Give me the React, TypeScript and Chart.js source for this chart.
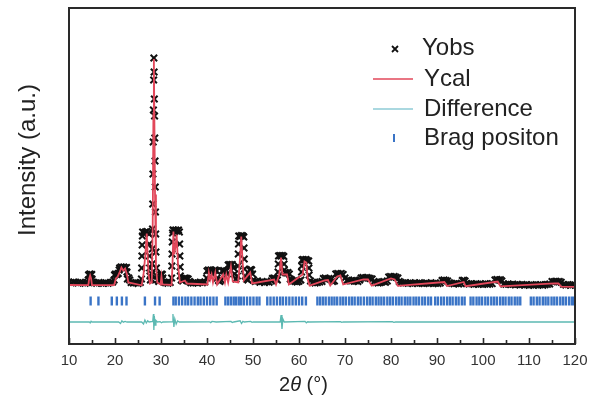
import React, { useEffect, useRef } from "react";
import { Chart, registerables } from "chart.js";

Chart.register(...registerables);

// 2θ range and tick labels
const xMin = 10;
const xMax = 120;
const xTickStep = 10;

// Observed intensity (2θ, counts)
const yObs: [number, number][] = [
  [10.0, 618], [10.5, 612], [11.0, 620], [11.5, 615], [12.0, 610], [12.5, 617], [13.0, 612], [13.5, 608], [14.0, 615],
  [14.2, 640], [14.25, 690], [14.4, 695], [14.6, 700], [14.8, 690], [14.95, 695], [15.0, 650], [15.1, 620],
  [15.5, 612], [16.0, 608], [16.5, 615], [17.0, 610], [17.5, 606], [18.0, 612], [18.5, 608], [19.0, 615], [19.5, 620],
  [19.8, 640], [19.9, 690], [20.1, 700], [20.4, 695], [20.7, 705], [20.9, 740], [21.0, 760], [21.3, 770], [21.6, 765],
  [21.9, 770], [22.2, 760], [22.5, 765], [22.6, 720], [22.7, 650], [23.0, 660], [23.2, 640], [23.5, 615],
  [24.0, 610], [24.5, 612], [25.0, 605], [25.5, 615],
  [25.75, 650], [25.8, 760], [25.85, 880], [25.9, 990], [25.95, 1080], [26.0, 1120], [26.3, 1110], [26.6, 1120],
  [26.9, 1125], [27.2, 1110], [27.4, 1100], [27.45, 1000], [27.5, 880], [27.55, 760], [27.6, 680], [27.7, 640], [27.9, 650],
  [28.0, 700], [28.05, 800], [28.1, 950], [28.15, 1150], [28.2, 1400], [28.25, 1700], [28.3, 2020], [28.35, 2340],
  [28.4, 2640], [28.45, 2860], [28.5, 2720], [28.55, 2450], [28.6, 2280], [28.65, 2060], [28.7, 1830], [28.75, 1570],
  [28.8, 1320], [28.85, 1100], [28.9, 920], [29.0, 760], [29.1, 680], [29.3, 640], [29.5, 625],
  [29.8, 650], [29.9, 690], [30.1, 700], [30.3, 695], [30.4, 660], [30.6, 620], [31.0, 612], [31.5, 608], [32.0, 615],
  [32.3, 660], [32.35, 780], [32.4, 900], [32.45, 1020], [32.5, 1110], [32.6, 1140], [32.9, 1135], [33.2, 1140],
  [33.5, 1130], [33.8, 1140], [34.0, 1120], [34.05, 1000], [34.1, 880], [34.15, 770], [34.2, 680], [34.4, 640],
  [34.7, 630], [35.0, 655], [35.3, 660], [35.6, 655], [35.9, 650], [36.2, 625], [36.5, 612], [37.0, 610], [37.5, 615],
  [38.0, 610], [38.5, 618], [39.0, 612], [39.5, 620],
  [39.9, 660], [40.0, 730], [40.3, 740], [40.6, 735], [40.9, 740], [41.2, 700], [41.5, 735], [41.8, 740], [42.1, 730],
  [42.2, 660], [42.5, 635], [42.8, 625], [43.1, 640],
  [43.3, 730], [43.6, 735], [43.9, 725], [44.2, 730], [44.4, 700],
  [44.6, 790], [44.9, 795], [45.2, 790], [45.5, 795], [45.8, 760], [46.0, 700], [46.3, 650], [46.6, 680],
  [46.75, 780], [46.8, 900], [46.85, 1000], [46.9, 1080], [47.2, 1075], [47.5, 1085], [47.8, 1080], [48.0, 1070],
  [48.05, 960], [48.1, 850], [48.15, 750], [48.3, 680], [48.6, 650], [48.9, 640],
  [49.2, 680], [49.3, 740], [49.5, 745], [49.7, 740], [49.9, 700], [50.1, 640], [50.5, 625], [51.0, 630], [51.5, 618],
  [52.0, 625], [52.5, 615], [53.0, 622], [53.5, 618], [54.0, 630],
  [54.2, 655], [54.5, 660], [54.8, 655], [55.1, 650], [55.3, 640],
  [55.45, 720], [55.5, 800], [55.55, 880], [55.8, 885], [56.1, 880], [56.4, 885], [56.7, 875], [56.75, 800], [56.8, 740],
  [57.0, 715], [57.3, 710], [57.6, 715], [57.9, 700], [58.1, 650], [58.4, 640], [58.8, 630], [59.2, 625], [59.6, 620],
  [60.0, 628], [60.4, 640],
  [60.55, 720], [60.6, 780], [60.65, 840], [60.9, 845], [61.2, 840], [61.5, 845], [61.8, 835], [62.1, 830], [62.15, 760],
  [62.2, 690], [62.5, 630], [63.0, 615], [63.5, 610], [64.0, 615], [64.5, 620], [65.0, 625],
  [65.3, 655], [65.7, 660], [66.1, 650], [66.5, 655], [66.9, 645], [67.3, 625], [67.7, 630],
  [68.0, 700], [68.4, 705], [68.8, 700], [69.2, 705], [69.6, 695], [70.0, 660], [70.4, 635], [70.8, 640], [71.2, 630],
  [71.6, 635], [72.0, 628], [72.4, 632], [72.8, 625], [73.2, 640],
  [73.5, 660], [73.9, 665], [74.3, 660], [74.7, 665], [75.1, 660], [75.5, 655], [75.9, 650], [76.3, 625], [76.7, 615],
  [77.2, 610], [77.6, 615], [78.0, 620], [78.4, 625], [78.8, 618], [79.2, 630],
  [79.5, 670], [79.9, 675], [80.3, 670], [80.7, 675], [81.1, 668], [81.5, 660], [81.8, 625], [82.2, 615], [82.7, 610],
  [83.2, 612], [83.7, 608], [84.2, 612], [84.7, 605], [85.2, 610], [85.7, 606], [86.2, 612], [86.7, 608], [87.2, 604],
  [87.7, 610], [88.2, 606], [88.7, 612], [89.2, 605], [89.7, 608], [90.2, 604], [90.7, 610],
  [91.1, 635], [91.5, 640], [91.9, 635], [92.3, 630], [92.7, 612], [93.2, 606], [93.7, 602], [94.2, 606], [94.7, 600],
  [95.2, 605], [95.5, 635], [95.8, 638], [96.1, 630], [96.5, 605], [97.0, 600], [97.5, 604], [98.0, 598], [98.5, 602],
  [99.0, 596], [99.5, 600], [100.0, 597], [100.5, 602], [101.0, 598], [101.5, 600], [102.0, 604],
  [102.6, 640], [103.0, 645], [103.4, 640], [103.8, 642], [104.1, 630], [104.5, 600], [105.0, 596], [105.5, 600],
  [106.0, 594], [106.5, 598], [107.0, 592], [107.5, 596], [108.0, 590], [108.5, 595], [109.0, 590], [109.5, 594],
  [110.0, 588], [110.5, 592], [111.0, 588], [111.5, 592], [112.0, 590], [112.5, 594], [113.0, 588], [113.5, 592],
  [114.0, 596], [114.5, 600], [115.0, 625], [115.4, 622], [115.8, 628], [116.2, 622], [116.6, 625], [117.0, 618],
  [117.5, 596], [118.0, 590], [118.5, 594], [119.0, 588], [119.5, 592], [120.0, 590],
];

// Calculated profile (2θ, counts)
const yCal: [number, number][] = [
  [10, 590], [14.2, 589], [14.4, 655], [14.6, 685], [14.8, 655], [15.0, 589], [19.8, 588], [20.2, 655], [20.6, 675],
  [21.0, 715], [21.4, 765], [21.8, 735], [22.2, 755], [22.6, 695], [22.9, 615], [25.8, 587], [26.2, 695], [26.6, 895],
  [26.9, 1105], [27.1, 895], [27.3, 695], [27.6, 605], [28.0, 615], [28.2, 1195], [28.35, 2295], [28.45, 2850],
  [28.55, 2295], [28.7, 1495], [28.9, 795], [29.2, 615], [29.9, 595], [30.1, 675], [30.3, 595], [32.3, 590],
  [32.5, 795], [32.7, 1125], [32.9, 895], [33.2, 995], [33.4, 1095], [33.7, 795], [34.1, 615], [35.2, 635],
  [35.6, 605], [40.1, 595], [40.4, 715], [40.7, 645], [41.0, 695], [41.3, 615], [41.8, 715], [42.2, 595],
  [43.5, 695], [43.9, 615], [44.2, 695], [44.6, 615], [45.2, 775], [45.6, 625], [46.8, 615], [47.2, 875],
  [47.45, 1075], [47.7, 855], [48.0, 635], [49.4, 715], [49.8, 605], [54.6, 645], [55.0, 595], [55.7, 695],
  [56.1, 865], [56.4, 695], [57.4, 695], [57.8, 595], [60.8, 695], [61.2, 825], [61.6, 815], [61.9, 645],
  [62.3, 585], [65.6, 635], [66.3, 640], [66.8, 585], [68.3, 675], [69.0, 685], [69.6, 595], [74.0, 645],
  [75.0, 645], [75.8, 583], [80.0, 655], [80.8, 645], [81.5, 582], [91.6, 620], [92.2, 580], [95.8, 620],
  [96.2, 578], [103.2, 625], [103.8, 577], [115.5, 607], [116.4, 605], [117.0, 574], [120, 572],
];

// Difference curve, offset below the pattern (2θ, counts)
const yDiff: [number, number][] = [
  [10, 220], [14.4, 222], [14.6, 212], [14.8, 228], [15, 220], [20.8, 220], [21.2, 205], [21.5, 232], [21.8, 218],
  [22.2, 226], [22.6, 220], [25.8, 220], [26.2, 200], [26.5, 240], [26.8, 210], [27.1, 232], [27.4, 220],
  [28.2, 225], [28.35, 300], [28.45, 140], [28.55, 280], [28.7, 190], [28.9, 235], [29.2, 220], [29.8, 224],
  [30.1, 212], [30.4, 220], [32.4, 222], [32.6, 300], [32.8, 170], [33.0, 250], [33.3, 200], [33.6, 230],
  [34.0, 220], [40.5, 222], [40.8, 214], [41.1, 226], [42, 220], [45.2, 226], [45.5, 214], [45.8, 220],
  [47.2, 232], [47.5, 205], [47.8, 226], [48.1, 220], [49.5, 226], [49.8, 216], [50.1, 220], [55.9, 220],
  [56.1, 290], [56.3, 150], [56.5, 250], [56.8, 220], [61.3, 226], [61.6, 212], [61.9, 222], [62.2, 220], [69, 224],
  [69.3, 216], [69.6, 220], [80.3, 223], [80.6, 217], [81, 220], [120, 220],
];

// Bragg reflection positions (2θ)
const braggPositions: number[] = [
  14.7, 16.4, 19.3, 20.4, 21.5, 22.5, 26.5, 28.7, 29.7,
  32.7, 33.2, 33.9, 34.6, 35.3, 35.9, 36.6, 37.3, 38.0, 38.6, 39.3, 40.0, 40.7, 41.4, 42.1,
  44.0, 44.6, 45.2, 45.8, 46.3, 46.9, 47.4, 48.0, 48.7, 49.4, 50.1, 50.8, 51.4,
  53.1, 53.8, 54.5, 55.2, 55.9, 56.5, 57.2, 57.9, 58.6, 59.3, 60.0, 60.7, 61.5,
  64.0, 64.6, 65.2, 65.8, 66.5, 67.1, 67.7, 68.3, 69.0, 69.6, 70.2, 70.9, 71.5, 72.1, 72.8, 73.4, 74.1, 74.8, 75.4,
  76.0, 76.7, 77.3, 77.9, 78.5, 79.2, 79.8, 80.4, 81.1, 81.7, 82.3, 83.0, 83.6, 84.2, 84.9, 85.5, 86.1, 86.8,
  87.4, 88.1, 88.7,
  89.6, 90.2, 90.9, 91.5, 92.2, 92.8, 93.4, 94.1, 94.7, 95.4, 96.0,
  97.3, 97.9, 98.6, 99.2, 99.8, 100.5, 101.1, 101.8, 102.4, 103.0, 103.7, 104.3, 104.9, 105.6, 106.2, 106.9,
  107.5, 108.1,
  110.4, 111.0, 111.7, 112.3, 113.0, 113.6, 114.2, 114.9, 115.5, 116.1, 116.8, 117.4, 118.0, 118.7, 119.3, 119.8,
];
const braggLevel = 430;

const seriesNames = ["Yobs", "Ycal", "Difference", "Brag positon"];
const yTitle = "Intensity (a.u.)";

const FONT = '"Liberation Sans", Arial, sans-serif';
const RED = "#e2475a";
const TEAL = "#5cb9b2";
const LEG_CYAN = "#8ecbd6";
const BLUE = "#3a74c6";
const INK = "#2a2a2a";

const decorPlugin = {
  id: "decor",
  afterDatasetsDraw(chart: any) {
    const { ctx, chartArea } = chart;
    const { left, right, top, bottom } = chartArea;
    const xs = chart.scales.x;
    ctx.save();
    // frame
    ctx.strokeStyle = INK;
    ctx.lineWidth = 2;
    ctx.strokeRect(left, top, right - left, bottom - top);
    // inward ticks
    ctx.lineWidth = 1.6;
    for (let v = xMin; v <= xMax; v += xTickStep / 2) {
      const px = Math.round(xs.getPixelForValue(v)) + 0.5;
      const len = v % xTickStep === 0 ? 6 : 4;
      ctx.beginPath();
      ctx.moveTo(px, bottom);
      ctx.lineTo(px, bottom - len);
      ctx.stroke();
    }
    // legend
    ctx.fillStyle = "#222";
    ctx.font = `24px ${FONT}`;
    ctx.textBaseline = "middle";
    ctx.textAlign = "left";
    // Yobs marker
    ctx.strokeStyle = "#111";
    ctx.lineWidth = 1.8;
    const mx = 395, my = 49, r = 3;
    ctx.beginPath();
    ctx.moveTo(mx - r, my - r); ctx.lineTo(mx + r, my + r);
    ctx.moveTo(mx - r, my + r); ctx.lineTo(mx + r, my - r);
    ctx.stroke();
    ctx.fillText(seriesNames[0], 422, 48);
    // Ycal
    ctx.strokeStyle = RED;
    ctx.lineWidth = 1.5;
    ctx.beginPath(); ctx.moveTo(373, 79); ctx.lineTo(413, 79); ctx.stroke();
    ctx.fillText(seriesNames[1], 424, 79);
    // Difference
    ctx.strokeStyle = LEG_CYAN;
    ctx.beginPath(); ctx.moveTo(373, 109); ctx.lineTo(413, 109); ctx.stroke();
    ctx.fillText(seriesNames[2], 424, 109);
    // Bragg
    ctx.strokeStyle = BLUE;
    ctx.lineWidth = 2;
    ctx.beginPath(); ctx.moveTo(394, 134); ctx.lineTo(394, 142); ctx.stroke();
    ctx.fillText(seriesNames[3], 424, 138);

    // y title
    ctx.save();
    ctx.translate(28, 160);
    ctx.rotate(-Math.PI / 2);
    ctx.textAlign = "center";
    ctx.font = `24px ${FONT}`;
    ctx.fillStyle = "#222";
    ctx.fillText(yTitle, 0, 0);
    ctx.restore();

    // x title: 2θ (°)
    const parts: [string, string][] = [
      ["2", `20px ${FONT}`],
      ["θ", `italic 20px ${FONT}`],
      [" (°)", `20px ${FONT}`],
    ];
    let total = 0;
    for (const [t, f] of parts) { ctx.font = f; total += ctx.measureText(t).width; }
    let cx = 303.5 - total / 2;
    ctx.textAlign = "left";
    for (const [t, f] of parts) {
      ctx.font = f;
      ctx.fillText(t, cx, 385);
      cx += ctx.measureText(t).width;
    }
    ctx.restore();
  },
};

export default function App() {
  const ref = useRef<HTMLCanvasElement | null>(null);
  useEffect(() => {
    document.body.style.margin = "0";
    const canvas = ref.current!;
    const chart = new Chart(canvas, {
      type: "scatter",
      data: {
        datasets: [
          {
            label: seriesNames[1],
            data: yCal.map(([x, y]) => ({ x, y })),
            showLine: true,
            borderColor: RED,
            borderWidth: 1.8,
            pointRadius: 0,
            fill: false,
            order: 0,
          } as any,
          {
            label: seriesNames[0],
            data: yObs.map(([x, y]) => ({ x, y })),
            showLine: false,
            pointStyle: "crossRot",
            pointRadius: 4.6,
            pointBorderWidth: 2,
            borderColor: "#111",
            backgroundColor: "#111",
            order: 1,
          } as any,
          {
            label: seriesNames[2],
            data: yDiff.map(([x, y]) => ({ x, y })),
            showLine: true,
            borderColor: TEAL,
            borderWidth: 1.3,
            pointRadius: 0,
            fill: false,
            order: 2,
          } as any,
          {
            label: seriesNames[3],
            data: braggPositions.map((x) => ({ x, y: braggLevel })),
            showLine: false,
            pointStyle: "line",
            pointRotation: 90,
            pointRadius: 4.5,
            pointBorderWidth: 2.4,
            borderColor: BLUE,
            backgroundColor: BLUE,
            order: 3,
          } as any,
        ],
      },
      options: {
        animation: false,
        responsive: false,
        maintainAspectRatio: false,
        events: [],
        layout: { padding: { top: 8, right: 21, left: 0, bottom: 0 } },
        plugins: { legend: { display: false }, tooltip: { enabled: false } },
        scales: {
          x: {
            type: "linear",
            min: xMin,
            max: xMax,
            ticks: {
              stepSize: xTickStep,
              autoSkip: false,
              maxRotation: 0,
              padding: 8,
              color: "#333",
              font: { family: FONT, size: 15 },
            },
            grid: { display: false, drawTicks: false },
            border: { display: false },
            afterFit: (s: any) => { s.height = 52; },
          },
          y: {
            min: 0,
            max: 3360,
            ticks: { display: false },
            grid: { display: false, drawTicks: false },
            border: { display: false },
            afterFit: (s: any) => { s.width = 69; },
          },
        },
      } as any,
      plugins: [decorPlugin],
    });
    return () => chart.destroy();
  }, []);
  return <canvas ref={ref} width={596} height={396} style={{ display: "block" }} />;
}
